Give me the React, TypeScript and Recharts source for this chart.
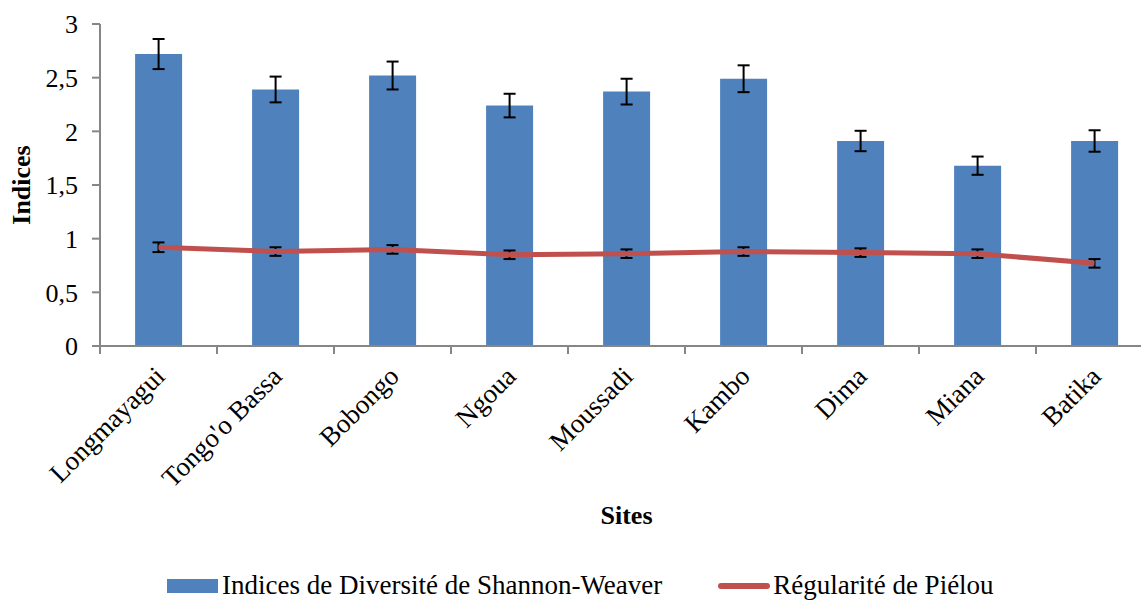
import React from 'react';
import {
    ComposedChart,
    Bar,
    Line,
    XAxis,
    YAxis,
    ErrorBar,
    Legend,
} from 'recharts';

const sites = ['Longmayagui', "Tongo'o Bassa", 'Bobongo', 'Ngoua', 'Moussadi', 'Kambo', 'Dima', 'Miana', 'Batika'];
const shannon = [2.72, 2.39, 2.52, 2.24, 2.37, 2.49, 1.91, 1.68, 1.91];
const shannonErr = [0.14, 0.12, 0.13, 0.11, 0.12, 0.125, 0.095, 0.085, 0.1];
const pielou = [0.92, 0.88, 0.9, 0.85, 0.86, 0.88, 0.87, 0.86, 0.77];
const pielouErr = [0.045, 0.04, 0.04, 0.04, 0.04, 0.04, 0.04, 0.04, 0.04];
const yTicks = [0, 0.5, 1, 1.5, 2, 2.5, 3];

const data = sites.map((site, i) => ({
    site,
    shannon: shannon[i],
    shannonErr: shannonErr[i],
    pielou: pielou[i],
    pielouErr: pielouErr[i],
}));

const FONT = 'Liberation Serif';
const AXIS = '#868686';
const BLUE = '#4F81BD';
const RED = '#C0504D';
const BAND = 117; // width of one category on the x axis

function SiteTick(props: any) {
    const { x, y, payload } = props;
    const tx = x + 8;
    const ty = y + 32;
    return (
        <g>
            <line x1={x - BAND / 2} x2={x - BAND / 2} y1={y} y2={y + 8} stroke={AXIS} strokeWidth={2} />
            <text
                x={tx}
                y={ty}
                transform={`rotate(-45 ${tx} ${ty})`}
                textAnchor="end"
                fontSize={27}
                fill="#000"
            >
                {payload.value}
            </text>
        </g>
    );
}

function LegendContent() {
    return (
        <div style={{ display: 'flex', alignItems: 'center', fontSize: 27, color: '#000', whiteSpace: 'nowrap' }}>
            <span style={{ display: 'inline-block', width: 51, height: 14, background: BLUE, marginRight: 4 }} />
            <span>Indices de Diversité de Shannon-Weaver</span>
            <span style={{ display: 'inline-block', width: 52, height: 6, background: RED, borderRadius: 3, marginLeft: 56, marginRight: 3 }} />
            <span>Régularité de Piélou</span>
        </div>
    );
}

export default function App() {
    return (
        <div style={{ position: 'absolute', left: 0, top: 0, width: 1141, height: 601, overflow: 'hidden', background: '#fff' }}>
            <style>{`.chart-root, .chart-root * { font-family: '${FONT}', serif !important; }`}</style>
            <div className="chart-root">
                <ComposedChart
                    width={1160}
                    height={601}
                    data={data}
                    margin={{ top: 24, right: 7, left: 0, bottom: 0 }}
                    barCategoryGap="30%"
                >
                    <XAxis
                        dataKey="site"
                        height={255}
                        interval={0}
                        tickLine={false}
                        tickSize={0}
                        tickMargin={0}
                        tick={<SiteTick />}
                        axisLine={{ stroke: AXIS, strokeWidth: 2 }}
                        label={{
                            value: 'Sites',
                            position: 'insideTop',
                            offset: 160,
                            fontSize: 26,
                            fontWeight: 'bold',
                            fill: '#000',
                        }}
                    />
                    <YAxis
                        width={100}
                        domain={[0, 3]}
                        ticks={yTicks}
                        interval={0}
                        tickSize={8}
                        tickMargin={14}
                        tickFormatter={(v: number) => String(v).replace('.', ',')}
                        tick={{ fontSize: 26, fill: '#000' }}
                        tickLine={{ stroke: AXIS, strokeWidth: 2 }}
                        axisLine={{ stroke: AXIS, strokeWidth: 2 }}
                        label={{
                            value: 'Indices',
                            angle: -90,
                            position: 'center',
                            dx: -29,
                            fontSize: 26,
                            fontWeight: 'bold',
                            fill: '#000',
                        }}
                    />
                    <Legend
                        layout="horizontal"
                        verticalAlign="middle"
                        align="center"
                        content={<LegendContent />}
                        wrapperStyle={{ top: 570, left: 167, width: 950 }}
                    />
                    <Bar dataKey="shannon" fill={BLUE} isAnimationActive={false} name="Indices de Diversité de Shannon-Weaver">
                        <ErrorBar dataKey="shannonErr" width={6} stroke="#000" strokeWidth={2} />
                    </Bar>
                    <Line
                        dataKey="pielou"
                        stroke={RED}
                        strokeWidth={5}
                        dot={false}
                        activeDot={false}
                        isAnimationActive={false}
                        name="Régularité de Piélou"
                    >
                        <ErrorBar dataKey="pielouErr" width={6} stroke="#000" strokeWidth={2} />
                    </Line>
                </ComposedChart>
            </div>
        </div>
    );
}
